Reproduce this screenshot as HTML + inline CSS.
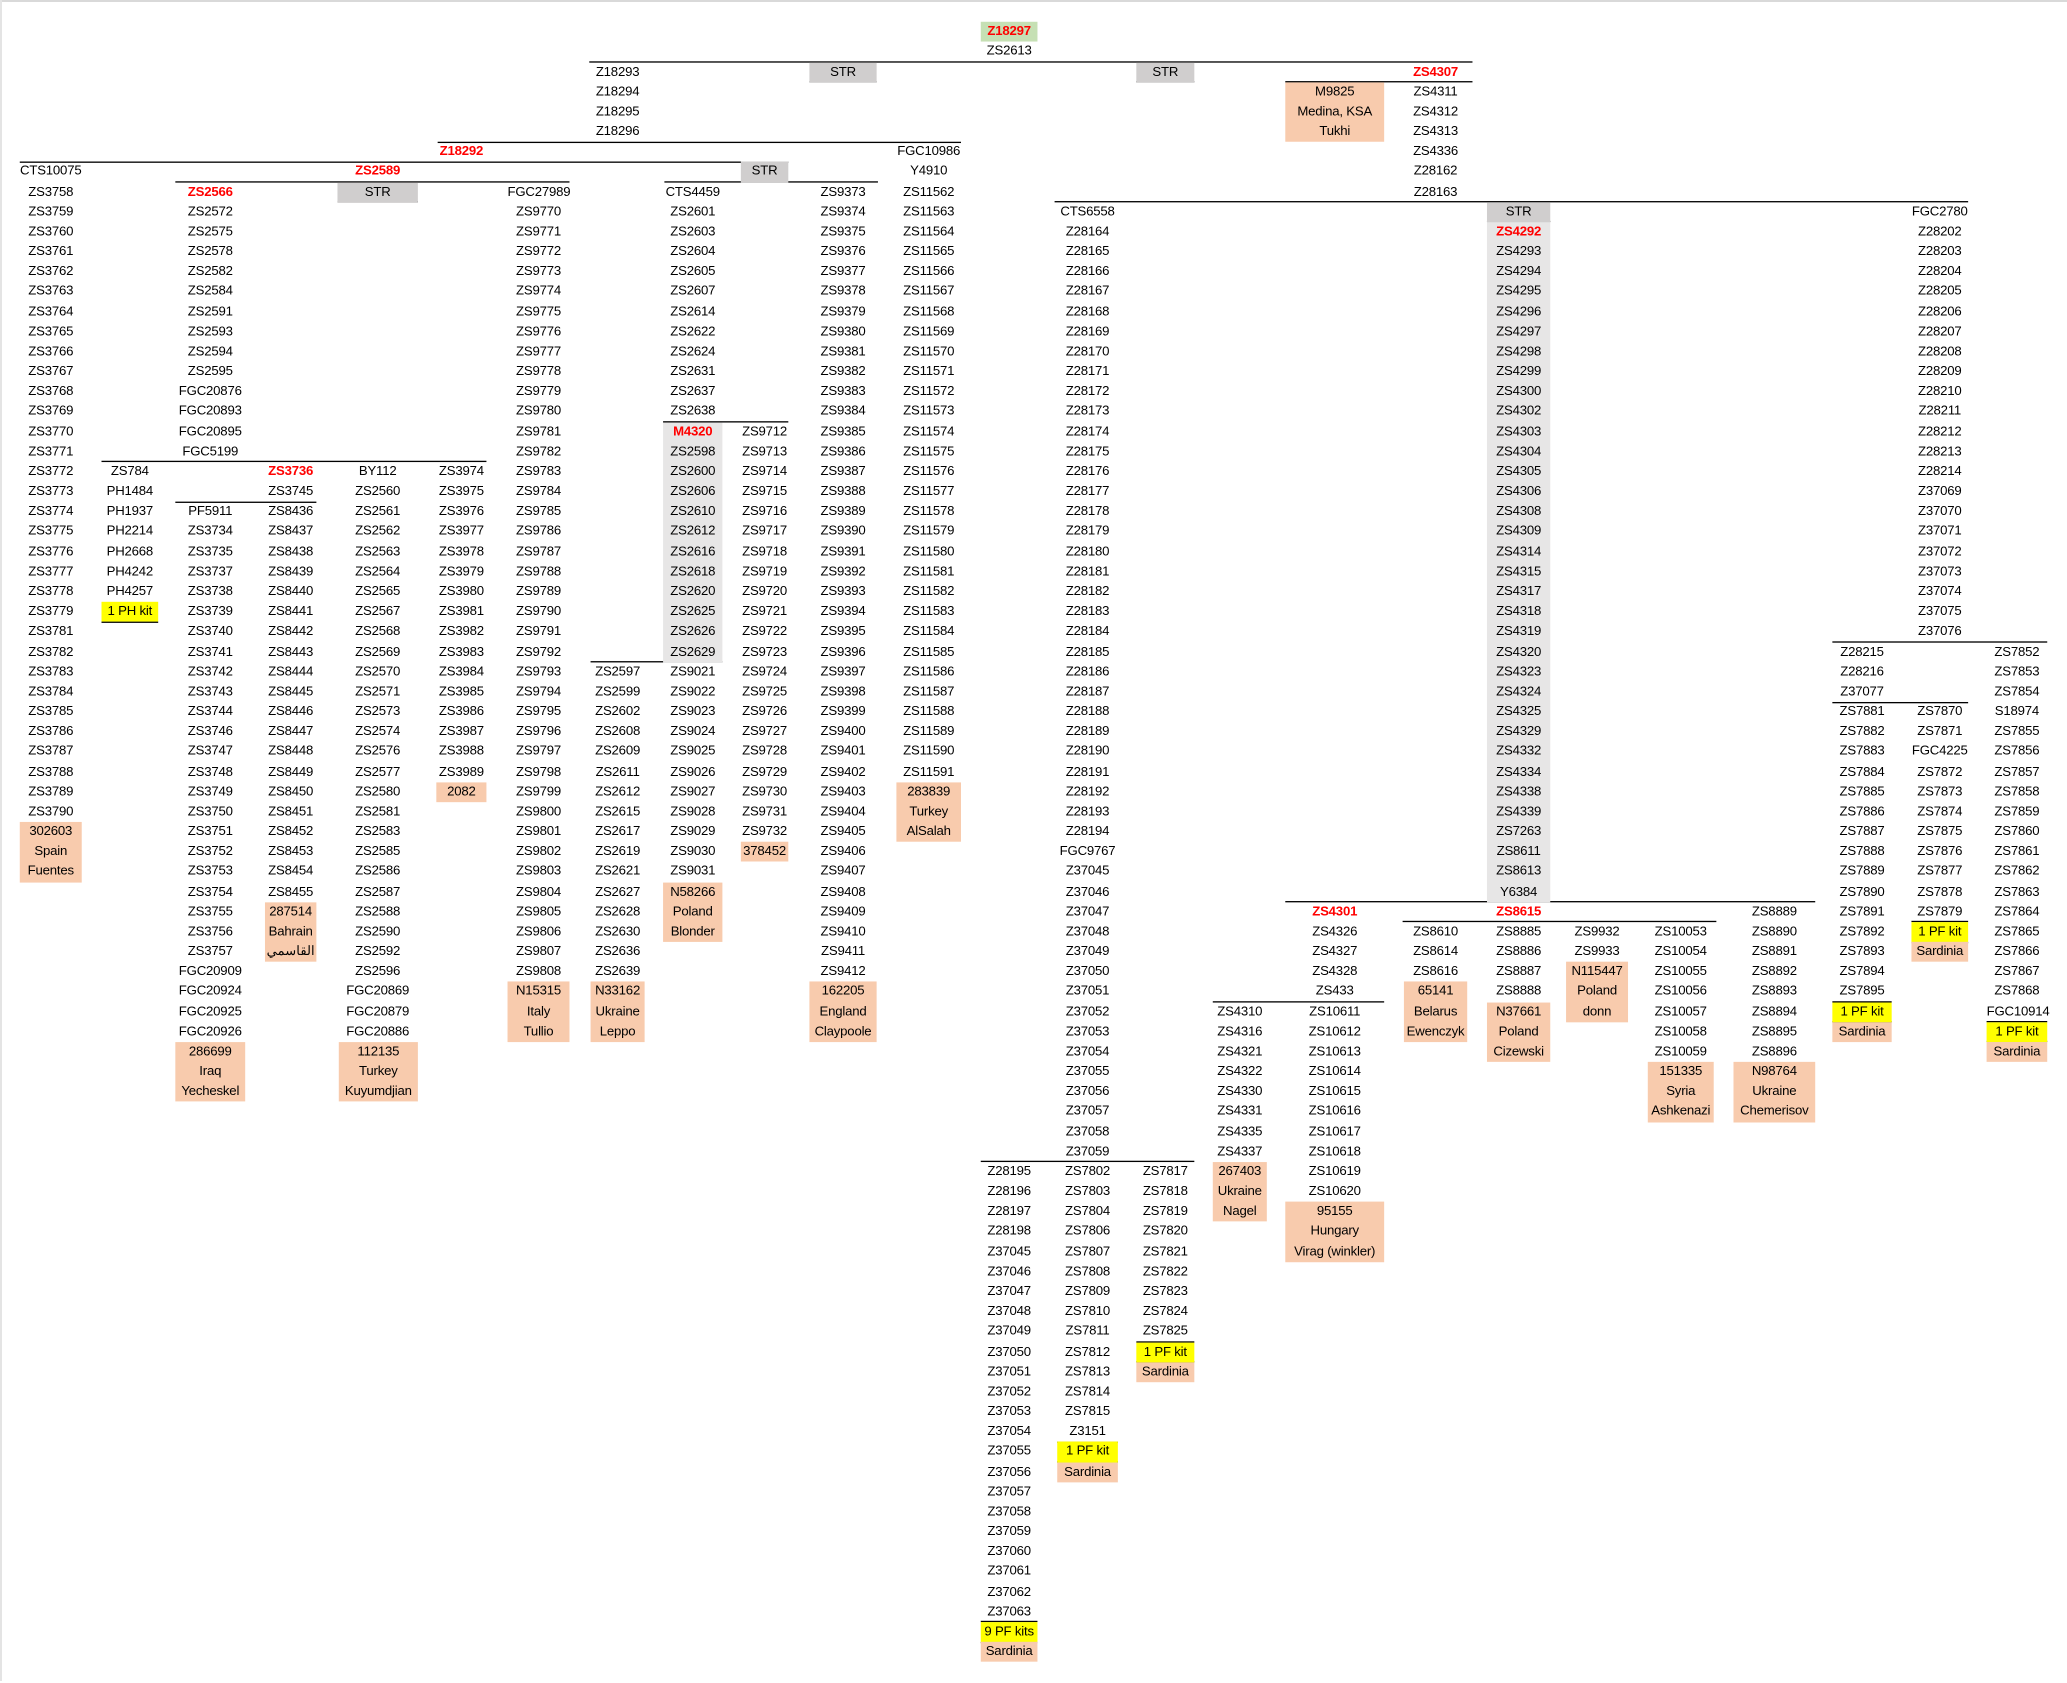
<!DOCTYPE html>
<html><head><meta charset="utf-8">
<style>
html,body{margin:0;padding:0;background:#fff;}
body{width:2067px;height:1681px;overflow:hidden;position:relative;}
#w{position:absolute;left:0;top:2px;width:1568px;height:1275.2px;transform:scale(1.31824);transform-origin:0 0;
font-family:"Liberation Sans","Noto Sans CJK SC",sans-serif;font-size:10px;color:#000;}
.c{position:absolute;top:calc(var(--r)*15.172px);line-height:15.172px;text-align:center;white-space:nowrap;letter-spacing:-0.15px;}
.h{position:absolute;height:1px;background:#000;top:calc(var(--b)*15.172px - 0.5px);}
.red{color:#ff0000;font-weight:bold;}
.pe{background:#f8cbad;}
.ye{background:#ffff00;}
.st{background:#d0cece;}
.gr{background:#e7e6e6;}
.gn{background:#c6e0b4;}
.A{left:15px;width:47px}.B{left:77px;width:43px}.C{left:133px;width:53px}.D{left:201px;width:39px}
.E{left:256px;width:61px}.F{left:331px;width:38px}.G{left:385px;width:47px}.H{left:448px;width:41px}
.I{left:503px;width:45px}.J{left:562px;width:36px}.K{left:614px;width:51px}.L{left:680px;width:49px}
.M{left:744px;width:43px}.N{left:802px;width:46px}.O{left:862px;width:44px}.P{left:920px;width:41px}
.Q{left:975px;width:75px}.R{left:1065px;width:48px}.S{left:1128px;width:48px}.T{left:1188px;width:47px}
.U{left:1250px;width:50px}.V{left:1315px;width:62px}.W{left:1390px;width:45px}.X{left:1450px;width:43px}
.Y{left:1507px;width:46px}
</style></head><body>
<div style="position:absolute;left:0;top:0;width:2067px;height:2px;background:#d9d9d9"></div>
<div style="position:absolute;left:0;top:0;width:2px;height:1681px;background:#e4e4e4"></div>
<div id="w">
<div class="h" style="--b:3;left:447px;width:670px"></div>
<div class="h" style="--b:4;left:975px;width:142px"></div>
<div class="h" style="--b:4;left:614px;width:51px"></div>
<div class="h" style="--b:4;left:862px;width:44px"></div>
<div class="h" style="--b:7;left:332px;width:397px"></div>
<div class="h" style="--b:8;left:15px;width:583px"></div>
<div class="h" style="--b:9;left:133px;width:299px"></div>
<div class="h" style="--b:9;left:504px;width:162px"></div>
<div class="h" style="--b:10;left:256px;width:61px"></div>
<div class="h" style="--b:10;left:800px;width:693px"></div>
<div class="h" style="--b:11;left:1128px;width:48px"></div>
<div class="h" style="--b:21;left:503px;width:95px"></div>
<div class="h" style="--b:23;left:77px;width:292px"></div>
<div class="h" style="--b:25;left:133px;width:107px"></div>
<div class="h" style="--b:31;left:77px;width:43px"></div>
<div class="h" style="--b:32;left:1390px;width:163px"></div>
<div class="h" style="--b:33;left:448px;width:100px"></div>
<div class="h" style="--b:35;left:1390px;width:103px"></div>
<div class="h" style="--b:45;left:975px;width:402px"></div>
<div class="h" style="--b:46;left:1064px;width:238px"></div>
<div class="h" style="--b:46;left:1450px;width:43px"></div>
<div class="h" style="--b:47;left:1450px;width:43px"></div>
<div class="h" style="--b:50;left:920px;width:130px"></div>
<div class="h" style="--b:50;left:1390px;width:45px"></div>
<div class="h" style="--b:51;left:1390px;width:45px"></div>
<div class="h" style="--b:51;left:1507px;width:46px"></div>
<div class="h" style="--b:52;left:1507px;width:46px"></div>
<div class="h" style="--b:58;left:744px;width:162px"></div>
<div class="h" style="--b:67;left:862px;width:44px"></div>
<div class="h" style="--b:68;left:862px;width:44px"></div>
<div class="h" style="--b:72;left:802px;width:46px"></div>
<div class="h" style="--b:73;left:802px;width:46px"></div>
<div class="h" style="--b:81;left:744px;width:43px"></div>
<div class="h" style="--b:82;left:744px;width:43px"></div>

<div class="c A" style="--r:8">CTS10075</div>
<div class="c A" style="--r:9">ZS3758<br>ZS3759<br>ZS3760<br>ZS3761<br>ZS3762<br>ZS3763<br>ZS3764<br>ZS3765<br>ZS3766<br>ZS3767<br>ZS3768<br>ZS3769<br>ZS3770<br>ZS3771<br>ZS3772<br>ZS3773<br>ZS3774<br>ZS3775<br>ZS3776<br>ZS3777<br>ZS3778<br>ZS3779<br>ZS3781<br>ZS3782<br>ZS3783<br>ZS3784<br>ZS3785<br>ZS3786<br>ZS3787<br>ZS3788<br>ZS3789<br>ZS3790</div>
<div class="c A pe" style="--r:41">302603<br>Spain<br>Fuentes</div>
<div class="c B" style="--r:23">ZS784<br>PH1484<br>PH1937<br>PH2214<br>PH2668<br>PH4242<br>PH4257</div>
<div class="c B ye" style="--r:30">1 PH kit</div>
<div class="c C red" style="--r:9">ZS2566</div>
<div class="c C" style="--r:10">ZS2572<br>ZS2575<br>ZS2578<br>ZS2582<br>ZS2584<br>ZS2591<br>ZS2593<br>ZS2594<br>ZS2595<br>FGC20876<br>FGC20893<br>FGC20895<br>FGC5199</div>
<div class="c C" style="--r:25">PF5911<br>ZS3734<br>ZS3735<br>ZS3737<br>ZS3738<br>ZS3739<br>ZS3740<br>ZS3741<br>ZS3742<br>ZS3743<br>ZS3744<br>ZS3746<br>ZS3747<br>ZS3748<br>ZS3749<br>ZS3750<br>ZS3751<br>ZS3752<br>ZS3753<br>ZS3754<br>ZS3755<br>ZS3756<br>ZS3757<br>FGC20909<br>FGC20924<br>FGC20925<br>FGC20926</div>
<div class="c C pe" style="--r:52">286699<br>Iraq<br>Yecheskel</div>
<div class="c D red" style="--r:23">ZS3736</div>
<div class="c D" style="--r:24">ZS3745<br>ZS8436<br>ZS8437<br>ZS8438<br>ZS8439<br>ZS8440<br>ZS8441<br>ZS8442<br>ZS8443<br>ZS8444<br>ZS8445<br>ZS8446<br>ZS8447<br>ZS8448<br>ZS8449<br>ZS8450<br>ZS8451<br>ZS8452<br>ZS8453<br>ZS8454<br>ZS8455</div>
<div class="c D pe" style="--r:45">287514<br>Bahrain<br>القاسمي</div>
<div class="c E red" style="--r:8">ZS2589</div>
<div class="c E st" style="--r:9">STR</div>
<div class="c E" style="--r:23">BY112<br>ZS2560<br>ZS2561<br>ZS2562<br>ZS2563<br>ZS2564<br>ZS2565<br>ZS2567<br>ZS2568<br>ZS2569<br>ZS2570<br>ZS2571<br>ZS2573<br>ZS2574<br>ZS2576<br>ZS2577<br>ZS2580<br>ZS2581<br>ZS2583<br>ZS2585<br>ZS2586<br>ZS2587<br>ZS2588<br>ZS2590<br>ZS2592<br>ZS2596<br>FGC20869<br>FGC20879<br>FGC20886</div>
<div class="c E pe" style="--r:52;left:257px;width:60px">112135<br>Turkey<br>Kuyumdjian</div>
<div class="c F red" style="--r:7">Z18292</div>
<div class="c F" style="--r:23">ZS3974<br>ZS3975<br>ZS3976<br>ZS3977<br>ZS3978<br>ZS3979<br>ZS3980<br>ZS3981<br>ZS3982<br>ZS3983<br>ZS3984<br>ZS3985<br>ZS3986<br>ZS3987<br>ZS3988<br>ZS3989</div>
<div class="c F pe" style="--r:39">2082</div>
<div class="c G" style="--r:9">FGC27989<br>ZS9770<br>ZS9771<br>ZS9772<br>ZS9773<br>ZS9774<br>ZS9775<br>ZS9776<br>ZS9777<br>ZS9778<br>ZS9779<br>ZS9780<br>ZS9781<br>ZS9782<br>ZS9783<br>ZS9784<br>ZS9785<br>ZS9786<br>ZS9787<br>ZS9788<br>ZS9789<br>ZS9790<br>ZS9791<br>ZS9792<br>ZS9793<br>ZS9794<br>ZS9795<br>ZS9796<br>ZS9797<br>ZS9798<br>ZS9799<br>ZS9800<br>ZS9801<br>ZS9802<br>ZS9803<br>ZS9804<br>ZS9805<br>ZS9806<br>ZS9807<br>ZS9808</div>
<div class="c G pe" style="--r:49">N15315<br>Italy<br>Tullio</div>
<div class="c H" style="--r:3">Z18293<br>Z18294<br>Z18295<br>Z18296</div>
<div class="c H" style="--r:33">ZS2597<br>ZS2599<br>ZS2602<br>ZS2608<br>ZS2609<br>ZS2611<br>ZS2612<br>ZS2615<br>ZS2617<br>ZS2619<br>ZS2621<br>ZS2627<br>ZS2628<br>ZS2630<br>ZS2636<br>ZS2639</div>
<div class="c H pe" style="--r:49">N33162<br>Ukraine<br>Leppo</div>
<div class="c I" style="--r:9">CTS4459<br>ZS2601<br>ZS2603<br>ZS2604<br>ZS2605<br>ZS2607<br>ZS2614<br>ZS2622<br>ZS2624<br>ZS2631<br>ZS2637<br>ZS2638</div>
<div class="c I gr" style="--r:21"><span class="red">M4320</span><br>ZS2598<br>ZS2600<br>ZS2606<br>ZS2610<br>ZS2612<br>ZS2616<br>ZS2618<br>ZS2620<br>ZS2625<br>ZS2626<br>ZS2629</div>
<div class="c I" style="--r:33">ZS9021<br>ZS9022<br>ZS9023<br>ZS9024<br>ZS9025<br>ZS9026<br>ZS9027<br>ZS9028<br>ZS9029<br>ZS9030<br>ZS9031</div>
<div class="c I pe" style="--r:44">N58266<br>Poland<br>Blonder</div>
<div class="c J st" style="--r:8">STR</div>
<div class="c J" style="--r:21">ZS9712<br>ZS9713<br>ZS9714<br>ZS9715<br>ZS9716<br>ZS9717<br>ZS9718<br>ZS9719<br>ZS9720<br>ZS9721<br>ZS9722<br>ZS9723<br>ZS9724<br>ZS9725<br>ZS9726<br>ZS9727<br>ZS9728<br>ZS9729<br>ZS9730<br>ZS9731<br>ZS9732</div>
<div class="c J pe" style="--r:42">378452</div>
<div class="c K st" style="--r:3">STR</div>
<div class="c K" style="--r:9">ZS9373<br>ZS9374<br>ZS9375<br>ZS9376<br>ZS9377<br>ZS9378<br>ZS9379<br>ZS9380<br>ZS9381<br>ZS9382<br>ZS9383<br>ZS9384<br>ZS9385<br>ZS9386<br>ZS9387<br>ZS9388<br>ZS9389<br>ZS9390<br>ZS9391<br>ZS9392<br>ZS9393<br>ZS9394<br>ZS9395<br>ZS9396<br>ZS9397<br>ZS9398<br>ZS9399<br>ZS9400<br>ZS9401<br>ZS9402<br>ZS9403<br>ZS9404<br>ZS9405<br>ZS9406<br>ZS9407<br>ZS9408<br>ZS9409<br>ZS9410<br>ZS9411<br>ZS9412</div>
<div class="c K pe" style="--r:49">162205<br>England<br>Claypoole</div>
<div class="c L" style="--r:7">FGC10986<br>Y4910<br>ZS11562<br>ZS11563<br>ZS11564<br>ZS11565<br>ZS11566<br>ZS11567<br>ZS11568<br>ZS11569<br>ZS11570<br>ZS11571<br>ZS11572<br>ZS11573<br>ZS11574<br>ZS11575<br>ZS11576<br>ZS11577<br>ZS11578<br>ZS11579<br>ZS11580<br>ZS11581<br>ZS11582<br>ZS11583<br>ZS11584<br>ZS11585<br>ZS11586<br>ZS11587<br>ZS11588<br>ZS11589<br>ZS11590<br>ZS11591</div>
<div class="c L pe" style="--r:39">283839<br>Turkey<br>AlSalah</div>
<div class="c M gn red" style="--r:1">Z18297</div>
<div class="c M" style="--r:2">ZS2613</div>
<div class="c M" style="--r:58">Z28195<br>Z28196<br>Z28197<br>Z28198<br>Z37045<br>Z37046<br>Z37047<br>Z37048<br>Z37049<br>Z37050<br>Z37051<br>Z37052<br>Z37053<br>Z37054<br>Z37055<br>Z37056<br>Z37057<br>Z37058<br>Z37059<br>Z37060<br>Z37061<br>Z37062<br>Z37063</div>
<div class="c M ye" style="--r:81">9 PF kits</div>
<div class="c M pe" style="--r:82">Sardinia</div>
<div class="c N" style="--r:10">CTS6558<br>Z28164<br>Z28165<br>Z28166<br>Z28167<br>Z28168<br>Z28169<br>Z28170<br>Z28171<br>Z28172<br>Z28173<br>Z28174<br>Z28175<br>Z28176<br>Z28177<br>Z28178<br>Z28179<br>Z28180<br>Z28181<br>Z28182<br>Z28183<br>Z28184<br>Z28185<br>Z28186<br>Z28187<br>Z28188<br>Z28189<br>Z28190<br>Z28191<br>Z28192<br>Z28193<br>Z28194<br>FGC9767<br>Z37045<br>Z37046<br>Z37047<br>Z37048<br>Z37049<br>Z37050<br>Z37051<br>Z37052<br>Z37053<br>Z37054<br>Z37055<br>Z37056<br>Z37057<br>Z37058<br>Z37059<br>ZS7802<br>ZS7803<br>ZS7804<br>ZS7806<br>ZS7807<br>ZS7808<br>ZS7809<br>ZS7810<br>ZS7811<br>ZS7812<br>ZS7813<br>ZS7814<br>ZS7815<br>Z3151</div>
<div class="c N ye" style="--r:72">1 PF kit</div>
<div class="c N pe" style="--r:73">Sardinia</div>
<div class="c O st" style="--r:3">STR</div>
<div class="c O" style="--r:58">ZS7817<br>ZS7818<br>ZS7819<br>ZS7820<br>ZS7821<br>ZS7822<br>ZS7823<br>ZS7824<br>ZS7825</div>
<div class="c O ye" style="--r:67">1 PF kit</div>
<div class="c O pe" style="--r:68">Sardinia</div>
<div class="c P" style="--r:50">ZS4310<br>ZS4316<br>ZS4321<br>ZS4322<br>ZS4330<br>ZS4331<br>ZS4335<br>ZS4337</div>
<div class="c P pe" style="--r:58">267403<br>Ukraine<br>Nagel</div>
<div class="c Q pe" style="--r:4">M9825<br>Medina, KSA<br>Tukhi</div>
<div class="c Q red" style="--r:45">ZS4301</div>
<div class="c Q" style="--r:46">ZS4326<br>ZS4327<br>ZS4328<br>ZS433<br>ZS10611<br>ZS10612<br>ZS10613<br>ZS10614<br>ZS10615<br>ZS10616<br>ZS10617<br>ZS10618<br>ZS10619<br>ZS10620</div>
<div class="c Q pe" style="--r:60">95155<br>Hungary<br>Virag (winkler)</div>
<div class="c R red" style="--r:3">ZS4307</div>
<div class="c R" style="--r:4">ZS4311<br>ZS4312<br>ZS4313<br>ZS4336<br>Z28162<br>Z28163</div>
<div class="c R" style="--r:46">ZS8610<br>ZS8614<br>ZS8616</div>
<div class="c R pe" style="--r:49">65141<br>Belarus<br>Ewenczyk</div>
<div class="c S st" style="--r:10">STR</div>
<div class="c S gr" style="--r:11"><span class="red">ZS4292</span><br>ZS4293<br>ZS4294<br>ZS4295<br>ZS4296<br>ZS4297<br>ZS4298<br>ZS4299<br>ZS4300<br>ZS4302<br>ZS4303<br>ZS4304<br>ZS4305<br>ZS4306<br>ZS4308<br>ZS4309<br>ZS4314<br>ZS4315<br>ZS4317<br>ZS4318<br>ZS4319<br>ZS4320<br>ZS4323<br>ZS4324<br>ZS4325<br>ZS4329<br>ZS4332<br>ZS4334<br>ZS4338<br>ZS4339<br>ZS7263<br>ZS8611<br>ZS8613<br>Y6384</div>
<div class="c S red" style="--r:45">ZS8615</div>
<div class="c S" style="--r:46">ZS8885<br>ZS8886<br>ZS8887<br>ZS8888</div>
<div class="c S pe" style="--r:50">N37661<br>Poland<br>Cizewski</div>
<div class="c T" style="--r:46">ZS9932<br>ZS9933</div>
<div class="c T pe" style="--r:48">N115447<br>Poland<br>donn</div>
<div class="c U" style="--r:46">ZS10053<br>ZS10054<br>ZS10055<br>ZS10056<br>ZS10057<br>ZS10058<br>ZS10059</div>
<div class="c U pe" style="--r:53">151335<br>Syria<br>Ashkenazi</div>
<div class="c V" style="--r:45">ZS8889<br>ZS8890<br>ZS8891<br>ZS8892<br>ZS8893<br>ZS8894<br>ZS8895<br>ZS8896</div>
<div class="c V pe" style="--r:53">N98764<br>Ukraine<br>Chemerisov</div>
<div class="c W" style="--r:32">Z28215<br>Z28216<br>Z37077<br>ZS7881<br>ZS7882<br>ZS7883<br>ZS7884<br>ZS7885<br>ZS7886<br>ZS7887<br>ZS7888<br>ZS7889<br>ZS7890<br>ZS7891<br>ZS7892<br>ZS7893<br>ZS7894<br>ZS7895</div>
<div class="c W ye" style="--r:50">1 PF kit</div>
<div class="c W pe" style="--r:51">Sardinia</div>
<div class="c X" style="--r:10">FGC2780<br>Z28202<br>Z28203<br>Z28204<br>Z28205<br>Z28206<br>Z28207<br>Z28208<br>Z28209<br>Z28210<br>Z28211<br>Z28212<br>Z28213<br>Z28214<br>Z37069<br>Z37070<br>Z37071<br>Z37072<br>Z37073<br>Z37074<br>Z37075<br>Z37076</div>
<div class="c X" style="--r:35">ZS7870<br>ZS7871<br>FGC4225<br>ZS7872<br>ZS7873<br>ZS7874<br>ZS7875<br>ZS7876<br>ZS7877<br>ZS7878<br>ZS7879</div>
<div class="c X ye" style="--r:46">1 PF kit</div>
<div class="c X pe" style="--r:47">Sardinia</div>
<div class="c Y" style="--r:32">ZS7852<br>ZS7853<br>ZS7854<br>S18974<br>ZS7855<br>ZS7856<br>ZS7857<br>ZS7858<br>ZS7859<br>ZS7860<br>ZS7861<br>ZS7862<br>ZS7863<br>ZS7864<br>ZS7865<br>ZS7866<br>ZS7867<br>ZS7868<br>FGC10914</div>
<div class="c Y ye" style="--r:51">1 PF kit</div>
<div class="c Y pe" style="--r:52">Sardinia</div>
</div>
</body></html>
